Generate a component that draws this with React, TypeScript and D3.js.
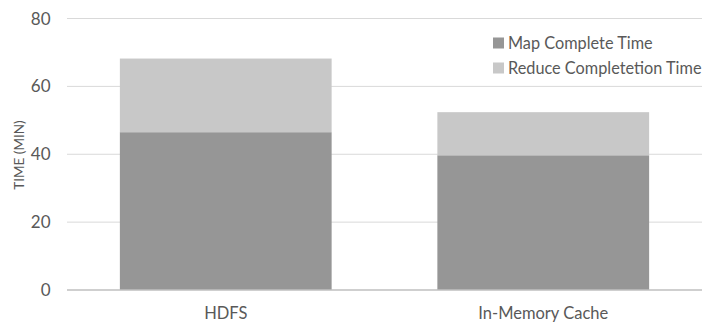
import React from "react";
import * as d3 from "d3";

const categories = ["HDFS", "In-Memory Cache"];
const mapTime = [46.5, 39.7];
const reduceTime = [21.7, 12.7];
const seriesNames = ["Map Complete Time", "Reduce Completetion Time"];
const yTicks = [0, 20, 40, 60, 80];

const W = 712, H = 322;
const margin = { left: 67, right: 10, top: 18.5, bottom: 32 };
const FONT = "Lato, 'Open Sans', sans-serif";
const colors = ["#969696", "#c8c8c8"];

export default function App() {
  const x = d3.scaleBand<string>().domain(categories).range([margin.left, W - margin.right]).paddingInner(0.333).paddingOuter(0.1665);
  const y = d3.scaleLinear().domain([0, 80]).range([H - margin.bottom, margin.top]);
  const rows = categories.map((c, i) => ({ c, map: mapTime[i], reduce: reduceTime[i] }));
  const stack = d3.stack<any>().keys(["map", "reduce"])(rows);
  return (
    <svg width={W} height={H} style={{ position: "absolute", left: 0, top: 0, background: "#fff" }}>
      {yTicks.map((t) => (
        <g key={t}>
          {t !== 0 && <line x1={margin.left} x2={W - margin.right} y1={y(t)} y2={y(t)} stroke="#d9d9d9" strokeWidth={1} />}
          <text x={50.5} y={y(t)} dy="0.36em" textAnchor="end" fontFamily={FONT} fontSize={17} fill="#595959">{t}</text>
        </g>
      ))}
      {stack.map((s, si) => (
        <g key={si} fill={colors[si]}>
          {s.map((d, i) => (
            <rect key={i} x={x(categories[i])} width={x.bandwidth()} y={y(d[1])} height={y(d[0]) - y(d[1])} />
          ))}
        </g>
      ))}
      <line x1={margin.left} x2={W - margin.right} y1={y(0)} y2={y(0)} stroke="#bfbfbf" strokeWidth={1.5} />
      {categories.map((c) => (
        <text key={c} x={(x(c) as number) + x.bandwidth() / 2} y={313} dy="0.35em" textAnchor="middle" fontFamily={FONT} fontSize={16.5} fill="#595959">{c}</text>
      ))}
      <text transform={`translate(19,155) rotate(-90)`} textAnchor="middle" dy="0.35em" fontFamily={FONT} fontSize={13.5} fill="#595959">TIME (MIN)</text>
      {seriesNames.map((n, i) => (
        <g key={n} transform={`translate(493,${43 + i * 25})`}>
          <rect x={0} y={-5.5} width={11} height={11} fill={colors[i]} />
          <text x={15} y={0} dy="0.35em" fontFamily={FONT} fontSize={16.3} fill="#595959">{n}</text>
        </g>
      ))}
    </svg>
  );
}
